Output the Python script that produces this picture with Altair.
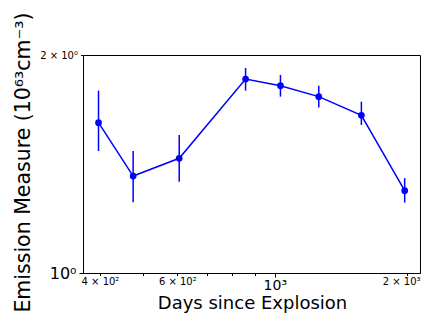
import altair as alt
import pandas as pd

days = [397, 476, 606, 858, 1030, 1259, 1574, 1975]
em = [1.613, 1.361, 1.440, 1.853, 1.814, 1.752, 1.651, 1.299]
em_lo = [1.474, 1.252, 1.337, 1.786, 1.752, 1.692, 1.601, 1.251]
em_hi = [1.786, 1.474, 1.551, 1.919, 1.877, 1.813, 1.724, 1.352]

x_ticks = [400, 500, 600, 700, 800, 900, 1000, 2000]
y_ticks = [1, 2]

df = pd.DataFrame({"days": days, "em": em, "lo": em_lo, "hi": em_hi})

xscale = alt.Scale(type="log", domain=[366, 2140], nice=False, zero=False)
yscale = alt.Scale(type="log", domain=[1, 2], nice=False, zero=False)

xaxis = alt.Axis(
    values=x_ticks,
    labelExpr="datum.value == 400 ? '4 × 10²' : datum.value == 600 ? '6 × 10²' : datum.value == 1000 ? '10³' : datum.value == 2000 ? '2 × 10³' : ''",
    labelFontSize={"condition": {"test": "datum.value == 1000", "value": 14}, "value": 10},
    labelOffset={"condition": {"test": "datum.value == 2000", "value": -6}, "value": 0},
    tickSize={"condition": {"test": "datum.value == 1000", "value": 4}, "value": 2.5},
    labelOverlap=False,
    labelFlush=False,
    labelPadding=1,
    grid=False,
    title="Days since Explosion",
    titleFontSize=18,
    titleFontWeight="normal",
    titleX=169,
    titleY=35,
    titleAlign="center",
    titleBaseline="alphabetic",
)

yaxis = alt.Axis(
    values=y_ticks,
    labelExpr="datum.value == 1 ? '10⁰' : '2 × 10⁰'",
    labelFontSize={"condition": {"test": "datum.value == 1", "value": 16}, "value": 10},
    tickSize={"condition": {"test": "datum.value == 1", "value": 4}, "value": 2.5},
    labelOverlap=False,
    labelFlush=False,
    labelPadding=3,
    grid=False,
    title="Emission Measure (10⁶³cm⁻³)",
    titleFontSize=20.5,
    titleFontWeight="normal",
    titleX=-60,
    titleY=107,
    titleAlign="center",
    titleBaseline="middle",
    titleAngle=-90,
)

base = alt.Chart(df)

bars = base.mark_rule(color="#0000ff", strokeWidth=1.5).encode(
    x=alt.X("days:Q", scale=xscale, axis=xaxis),
    y=alt.Y("lo:Q", scale=yscale, axis=yaxis),
    y2="hi:Q",
)

line = base.mark_line(color="#0000ff", strokeWidth=1.5).encode(
    x=alt.X("days:Q", scale=xscale),
    y=alt.Y("em:Q", scale=yscale),
)

pts = base.mark_circle(color="#0000ff", size=45, opacity=1).encode(
    x=alt.X("days:Q", scale=xscale),
    y=alt.Y("em:Q", scale=yscale),
)

chart = (
    alt.layer(bars, line, pts)
    .properties(
        width=337,
        height=218,
        autosize=alt.AutoSizeParams(type="none"),
        padding={"left": 75, "top": 47, "right": 1, "bottom": 40},
    )
    .configure_view(stroke="black", strokeWidth=1)
    .configure_axis(
        domainColor="black",
        tickColor="black",
        labelColor="black",
        titleColor="black",
        labelFont="DejaVu Sans",
        titleFont="DejaVu Sans",
    )
)

chart.save("out.html", embed_options={"renderer": "svg", "actions": False})
